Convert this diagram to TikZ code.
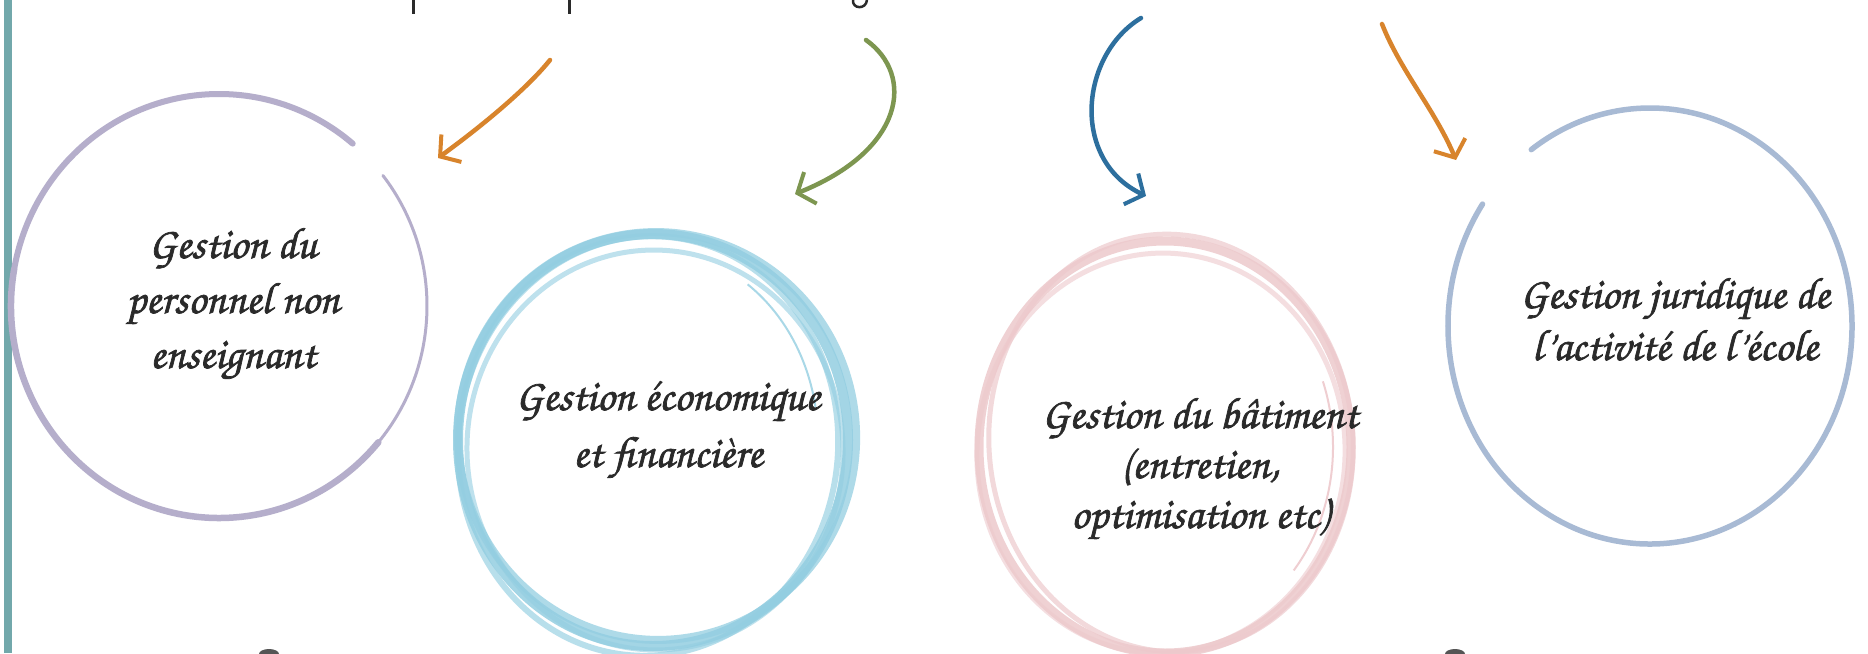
\documentclass[tikz,border=0pt]{standalone}
\usepackage[T1,TU]{fontenc}
\usetikzlibrary{arrows.meta}
\definecolor{tealbar}{HTML}{72A8AB}
\definecolor{lav}{HTML}{B5AECB}
\definecolor{aqua}{HTML}{93CEE1}
\definecolor{rose}{HTML}{EDC9CC}
\definecolor{steel}{HTML}{A8BAD4}
\definecolor{arrorange}{HTML}{D8842C}
\definecolor{arrgreen}{HTML}{7D9650}
\definecolor{arrblue}{HTML}{2D6F9E}
\definecolor{ink}{HTML}{2A2A2A}
\newcommand\handfont[1]{\fontencoding{T1}\fontfamily{pzc}\fontseries{mb}\fontshape{it}\fontsize{44}{#1}\selectfont}
\newcommand\fakebold{\special{pdf:literal direct 2 Tr 0.7 w}}
\newcommand\fakeboldoff{\special{pdf:literal direct 0 Tr}}
\tikzset{
  label/.style={align=center, text=ink, font=\handfont{#1}, inner sep=0pt, anchor=base},
  label/.default=55,
  arr/.style={line width=4.5pt, line cap=round, -{Straight Barb[length=14pt,width=34pt,line width=4pt]}},
}
\begin{document}
\begin{tikzpicture}[x=1pt,y=-1pt]
\useasboundingbox (0,0) rectangle (1868,653);
\fill[white] (0,0) rectangle (1868,653);
% left bar
\fill[tealbar] (4,0) rectangle (12,653);
% cut-off fragments at top and bottom
\draw[ink, line width=3pt] (413,0) -- (413,14);
\draw[ink, line width=3pt] (569,0) -- (569,14);
\draw[ink, line width=2.5pt] (853,0) .. controls (852,9) and (866,10) .. (867,0);
\fill[ink!80] (269,654) ellipse [x radius=10, y radius=5];
\fill[ink!80] (1455,654) ellipse [x radius=10, y radius=5];
% circle centres
\coordinate (c1) at (219,306);
\coordinate (c2) at (653,440);
\coordinate (c3) at (1165,447);
\coordinate (c4) at (1650,326);
% circle 1 (lavender, open at top right)
\draw[lav, line width=6pt, line cap=round] (c1) ++(-50:208 and 212)
  arc[start angle=-50, end angle=-170, x radius=208, y radius=212];
\draw[lav, line width=6.5pt, line cap=round] (c1) ++(-170:208 and 212)
  arc[start angle=-170, end angle=-320, x radius=208, y radius=212];
\draw[lav, line width=3pt, line cap=round] (c1) ++(-320:208 and 212)
  arc[start angle=-320, end angle=-398, x radius=208, y radius=212];
% circle 2 (aqua, thick scribbled)
\draw[aqua, line width=10pt, opacity=.85] (c2) ellipse [x radius=195, y radius=206];
\draw[aqua, line width=8pt, opacity=.75] ([shift={(4,-4)}]c2) ellipse [x radius=199, y radius=204, rotate=8];
\draw[aqua, line width=6pt, opacity=.65] ([shift={(-5,6)}]c2) ellipse [x radius=190, y radius=210, rotate=-6];
\draw[aqua, line width=5pt, opacity=.6] ([shift={(2,10)}]c2) ellipse [x radius=188, y radius=200, rotate=3];
\draw[aqua!80, line width=2pt] (c2) ++(-10:165 and 190) arc[start angle=-10, end angle=-55, x radius=165, y radius=190];
% circle 3 (rose)
\draw[rose, line width=9pt, opacity=.85] (c3) ellipse [x radius=186, y radius=206];
\draw[rose, line width=5pt, opacity=.7] ([shift={(6,-4)}]c3) ellipse [x radius=182, y radius=209, rotate=5];
\draw[rose, line width=5pt, opacity=.6] ([shift={(-4,6)}]c3) ellipse [x radius=184, y radius=200, rotate=-4];
\draw[rose!90, line width=2pt] (c3) ++(-20:168 and 192) arc[start angle=-20, end angle=40, x radius=168, y radius=192];
% circle 4 (steel blue, open at top left)
\draw[steel, line width=5.5pt, line cap=round] (c4) ++(-146:202 and 218)
  arc[start angle=-146, end angle=-486, x radius=202, y radius=218];
% labels (anchored at the baseline of their last line)
\node[label=55] (t1) at (233,368) {\fakebold Gestion du\\personnel non\\enseignant\fakeboldoff};
\node[label=57] (t2) at (668,467) {\fakebold Gestion \'economique\\et financi\`ere\fakeboldoff};
\node[label=50] (t3) at (1200,528) {\fakebold Gestion du b\^atiment\\(entretien,\\optimisation etc)\fakeboldoff};
\node[label=52] (t4) at (1675,360) {\fakebold Gestion juridique de\\l'activit\'e de l'\'ecole\fakeboldoff};
% arrows
\coordinate (a1s) at (550,60);   \coordinate (a1e) at (438,158);
\coordinate (a2s) at (866,40);   \coordinate (a2e) at (795,194);
\coordinate (a3s) at (1141,18);  \coordinate (a3e) at (1146,196);
\coordinate (a4s) at (1382,24);  \coordinate (a4e) at (1456,160);
\draw[arr, arrorange] (a1s) .. controls (530,85) and (490,120) .. (a1e);
\draw[arr, arrgreen]  (a2s) .. controls (915,75) and (905,150) .. (a2e);
\draw[arr, arrblue]   (a3s) .. controls (1080,55) and (1070,160) .. (a3e);
\draw[arr, arrorange] (a4s) .. controls (1400,70) and (1435,110) .. (a4e);
\end{tikzpicture}
\end{document}
